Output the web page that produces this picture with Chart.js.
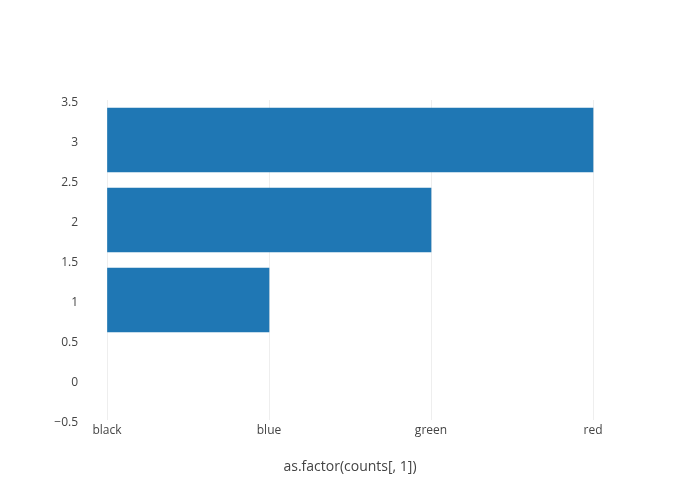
<script src="https://cdn.jsdelivr.net/npm/chart.js@4.4.0/dist/chart.umd.min.js"></script>
<style>
  body { margin: 0; background: #fff; }
  #wrap { width: 700px; height: 500px; }
</style>
<div id="wrap"><canvas id="bar-chart"></canvas></div>
<script>
// categories on the x axis
const colourNames = ['black', 'blue', 'green', 'red'];
// each bar: its y position and the category it reaches
const barY = [1, 2, 3];
const barEnd = ['blue', 'green', 'red'];
const yTicks = [-0.5, 0, 0.5, 1, 1.5, 2, 2.5, 3, 3.5];

Chart.defaults.font.family = '"Open Sans", sans-serif';
Chart.defaults.font.size = 12;
Chart.defaults.color = '#444';

const points = barY.map((y, i) => ({ x: colourNames.indexOf(barEnd[i]), y: y }));

new Chart(document.getElementById('bar-chart'), {
  type: 'bar',
  data: {
    datasets: [{
      data: points,
      backgroundColor: '#1f77b4',
      borderWidth: 0,
      barThickness: 64
    }]
  },
  options: {
    indexAxis: 'y',
    responsive: true,
    maintainAspectRatio: false,
    animation: false,
    layout: { padding: { top: 100, right: 80, left: 0, bottom: 0 } },
    plugins: { legend: { display: false }, tooltip: { enabled: false } },
    scales: {
      x: {
        type: 'linear',
        min: -27 / 162,
        max: 3 + 27 / 162,
        afterBuildTicks: (scale) => { scale.ticks = colourNames.map((c, i) => ({ value: i })); },
        afterFit: (scale) => { scale.height = 80; },
        ticks: {
          padding: 3,
          callback: (v) => colourNames[v]
        },
        grid: { color: '#eee', lineWidth: 1, drawTicks: false },
        border: { display: false },
        title: {
          display: true,
          text: 'as.factor(counts[, 1])',
          font: { size: 14 },
          padding: { top: 0, bottom: 25 }
        }
      },
      y: {
        type: 'linear',
        offset: false,
        min: -0.5,
        max: 3.5,
        afterBuildTicks: (scale) => { scale.ticks = yTicks.map(v => ({ value: v })); },
        afterFit: (scale) => { scale.width = 80; },
        ticks: {
          padding: 2,
          labelOffset: 3,
          callback: (v) => String(v).replace('-', '\u2212')
        },
        grid: { display: false, drawTicks: false },
        border: { display: false }
      }
    }
  }
});
</script>
